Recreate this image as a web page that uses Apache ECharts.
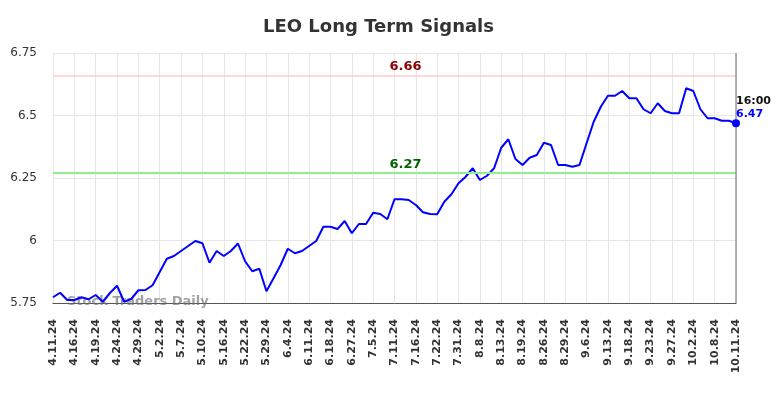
<!DOCTYPE html>
<html>
<head>
    <meta charset="utf-8">
    <title>LEO Long Term Signals</title>
    <script src="https://cdn.jsdelivr.net/npm/echarts@6/dist/echarts.min.js"></script>
    <style>
        html, body { margin: 0; padding: 0; background: #fff; }
        #chart { width: 784px; height: 398px; }
    </style>
</head>
<body>
<div id="chart"></div>
<script type="text/javascript">
    // dates (every third one is shown on the axis)
    var dates = ['4.11.24', '4.12.24', '4.15.24', '4.16.24', '4.17.24', '4.18.24', '4.19.24', '4.22.24', '4.23.24', '4.24.24',
        '4.25.24', '4.26.24', '4.29.24', '4.30.24', '5.1.24', '5.2.24', '5.3.24', '5.6.24', '5.7.24', '5.8.24',
        '5.9.24', '5.10.24', '5.13.24', '5.14.24', '5.16.24', '5.17.24', '5.20.24', '5.22.24', '5.23.24', '5.24.24',
        '5.29.24', '5.30.24', '5.31.24', '6.4.24', '6.5.24', '6.6.24', '6.11.24', '6.12.24', '6.13.24', '6.18.24',
        '6.20.24', '6.24.24', '6.27.24', '6.28.24', '7.1.24', '7.5.24', '7.8.24', '7.9.24', '7.11.24', '7.12.24',
        '7.15.24', '7.16.24', '7.17.24', '7.19.24', '7.22.24', '7.24.24', '7.26.24', '7.31.24', '8.2.24', '8.6.24',
        '8.8.24', '8.9.24', '8.12.24', '8.13.24', '8.14.24', '8.16.24', '8.19.24', '8.21.24', '8.23.24', '8.26.24',
        '8.27.24', '8.28.24', '8.29.24', '9.3.24', '9.4.24', '9.6.24', '9.10.24', '9.11.24', '9.13.24', '9.16.24',
        '9.17.24', '9.18.24', '9.19.24', '9.20.24', '9.23.24', '9.24.24', '9.25.24', '9.27.24', '9.30.24', '10.1.24',
        '10.2.24', '10.3.24', '10.4.24', '10.8.24', '10.9.24', '10.10.24', '10.11.24'];

    // closing prices
    var prices = [5.773, 5.791, 5.762, 5.762, 5.773, 5.765, 5.782, 5.755, 5.79, 5.819,
        5.755, 5.766, 5.801, 5.802, 5.821, 5.874, 5.927, 5.938, 5.958, 5.978,
        5.998, 5.989, 5.911, 5.958, 5.938, 5.958, 5.988, 5.917, 5.877, 5.887,
        5.797, 5.849, 5.902, 5.967, 5.949, 5.958, 5.978, 5.998, 6.055, 6.055,
        6.046, 6.078, 6.029, 6.066, 6.066, 6.111, 6.106, 6.085, 6.165, 6.165,
        6.162, 6.142, 6.113, 6.106, 6.105, 6.155, 6.185, 6.229, 6.255, 6.289,
        6.242, 6.259, 6.289, 6.371, 6.405, 6.326, 6.302, 6.331, 6.342, 6.391,
        6.382, 6.302, 6.302, 6.295, 6.302, 6.389, 6.475, 6.535, 6.579, 6.579,
        6.598, 6.569, 6.569, 6.525, 6.509, 6.549, 6.518, 6.509, 6.509, 6.609,
        6.598, 6.525, 6.489, 6.489, 6.479, 6.479, 6.469];

    var upperSignal = 6.66;
    var lowerSignal = 6.27;
    var lastTime = '16:00';

    var yMin = 5.75, yMax = 6.75, yStep = 0.25;

    var myChart = echarts.init(document.getElementById('chart'));
    var lastIdx = prices.length - 1;

    myChart.setOption({
        animation: false,
        textStyle: { fontFamily: 'DejaVu Sans' },
        title: {
            text: 'LEO Long Term Signals',
            left: 258,
            top: 13,
            textStyle: { fontSize: 18, fontWeight: 'bold', color: '#333' }
        },
        grid: { left: 53, right: 48, top: 53, bottom: 95 },
        graphic: [{
            type: 'text',
            left: 67,
            top: 295,
            z: 1,
            style: {
                text: 'Stock Traders Daily',
                font: 'bold 13px "DejaVu Sans"',
                fill: 'rgba(110,110,110,0.65)'
            }
        }],
        xAxis: {
            type: 'category',
            data: dates,
            boundaryGap: false,
            axisTick: { show: false },
            axisLine: { lineStyle: { color: '#555', width: 1 } },
            axisLabel: {
                interval: 2,
                rotate: 90,
                margin: 16,
                color: '#333',
                fontSize: 11,
                fontWeight: 'bold'
            },
            splitLine: { show: true, interval: 2, lineStyle: { color: '#e6e6e6', width: 1 } }
        },
        yAxis: {
            type: 'value',
            min: yMin,
            max: yMax,
            interval: yStep,
            axisLine: { show: false },
            axisTick: { show: false },
            axisLabel: { color: '#333', fontSize: 12, margin: 16 },
            splitLine: { lineStyle: { color: '#e6e6e6', width: 1 } }
        },
        series: [{
            type: 'line',
            data: prices,
            showSymbol: false,
            symbol: 'none',
            lineStyle: { color: '#0000ff', width: 2 },
            z: 3,
            markLine: {
                silent: true,
                symbol: 'none',
                data: [
                    {
                        yAxis: upperSignal,
                        lineStyle: { color: '#ffcccc', width: 1.5, type: 'solid' },
                        label: {
                            position: 'middle',
                            distance: 2,
                            padding: [0, 0, 0, 22],
                            formatter: upperSignal.toFixed(2),
                            color: '#8b0000',
                            fontWeight: 'bold',
                            fontSize: 13
                        }
                    },
                    {
                        yAxis: lowerSignal,
                        lineStyle: { color: '#90ee90', width: 2, type: 'solid' },
                        label: {
                            position: 'middle',
                            distance: 2,
                            padding: [0, 0, 0, 22],
                            formatter: lowerSignal.toFixed(2),
                            color: '#006400',
                            fontWeight: 'bold',
                            fontSize: 13
                        }
                    },
                    {
                        xAxis: dates[lastIdx],
                        lineStyle: { color: '#999', width: 1.5, type: 'solid' },
                        label: { show: false }
                    }
                ]
            },
            markPoint: {
                silent: true,
                symbol: 'circle',
                symbolSize: 8,
                itemStyle: { color: '#0000ff' },
                data: [{
                    coord: [dates[lastIdx], prices[lastIdx]],
                    label: {
                        show: true,
                        position: [4, -25],
                        align: 'left',
                        verticalAlign: 'top',
                        formatter: '{t|' + lastTime + '}\n{v|' + prices[lastIdx].toFixed(2) + '}',
                        rich: {
                            t: { color: '#111', fontWeight: 'bold', fontSize: 11, lineHeight: 13 },
                            v: { color: '#0000ff', fontWeight: 'bold', fontSize: 11, lineHeight: 13 }
                        }
                    }
                }]
            }
        }]
    });
</script>
</body>
</html>
